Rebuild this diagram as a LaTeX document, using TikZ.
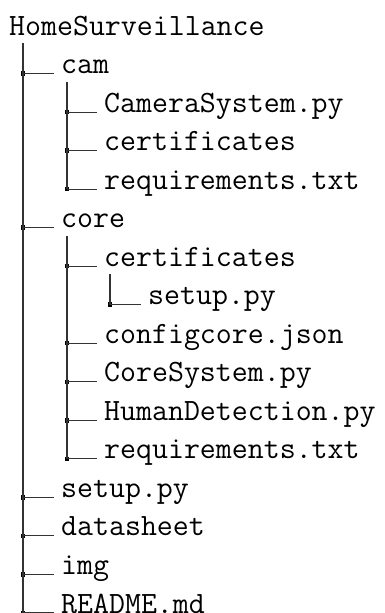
\documentclass[tikz,border=0pt]{standalone}
\usepackage{fontspec}
\begin{document}
\begin{tikzpicture}[x=1pt,y=-1pt]
\tikzset{
  entry/.style={anchor=base west, inner sep=0pt, font=\ttfamily\fontsize{31}{31}\selectfont},
  joint/.style={shape=rectangle, fill=black, inner sep=0pt, minimum size=4.5pt},
  branch/.style={line width=1.1pt, draw=black!80},
  twig/.style={branch, shorten >=8pt},
}
\useasboundingbox (0,0) rectangle (384,613);

% entries: x of the text, baseline of the row
\node[entry] (root) at (9,35.0)   {HomeSurveillance};
\node[entry] (cam)  at (61,73.5)  {cam};
\node[entry] (camsys) at (104,112.1) {CameraSystem.py};
\node[entry] (camcert) at (104,150.6) {certificates};
\node[entry] (camreq) at (104,189.1) {requirements.txt};
\node[entry] (core) at (61,227.7) {core};
\node[entry] (corecert) at (104,266.2) {certificates};
\node[entry] (certsetup) at (148,304.7) {setup.py};
\node[entry] (cfg) at (104,343.2) {configcore.json};
\node[entry] (coresys) at (104,381.8) {CoreSystem.py};
\node[entry] (human) at (104,420.3) {HumanDetection.py};
\node[entry] (corereq) at (104,458.8) {requirements.txt};
\node[entry] (setup) at (61,497.4) {setup.py};
\node[entry] (data) at (61,535.9) {datasheet};
\node[entry] (img) at (61,574.4) {img};
\node[entry] (readme) at (61,613.0) {README.md};

% joints on the vertical branches
\foreach \n in {cam,core,setup,data,img,readme}
  \node[joint] (j-\n) at (23,0 |- \n.base) {};
\foreach \n in {camsys,camcert,camreq,corecert,cfg,coresys,human,corereq}
  \node[joint] (j-\n) at (67,0 |- \n.base) {};
\node[joint] (j-certsetup) at (110,0 |- certsetup.base) {};

% vertical branches
\draw[branch] ([yshift=-8pt]root.base -| j-readme.center) -- (j-readme.center);
\draw[branch] ([yshift=-8pt]cam.base -| j-camreq.center) -- (j-camreq.center);
\draw[branch] ([yshift=-8pt]core.base -| j-corereq.center) -- (j-corereq.center);
\draw[branch] ([yshift=-8pt]corecert.base -| j-certsetup.center) -- (j-certsetup.center);

% horizontal twigs to each entry
\foreach \n in {cam,core,setup,data,img,readme,camsys,camcert,camreq,corecert,cfg,coresys,human,corereq,certsetup}
  \draw[twig] (j-\n.center) -- ([xshift=1pt]\n.base west);
\end{tikzpicture}
\end{document}
